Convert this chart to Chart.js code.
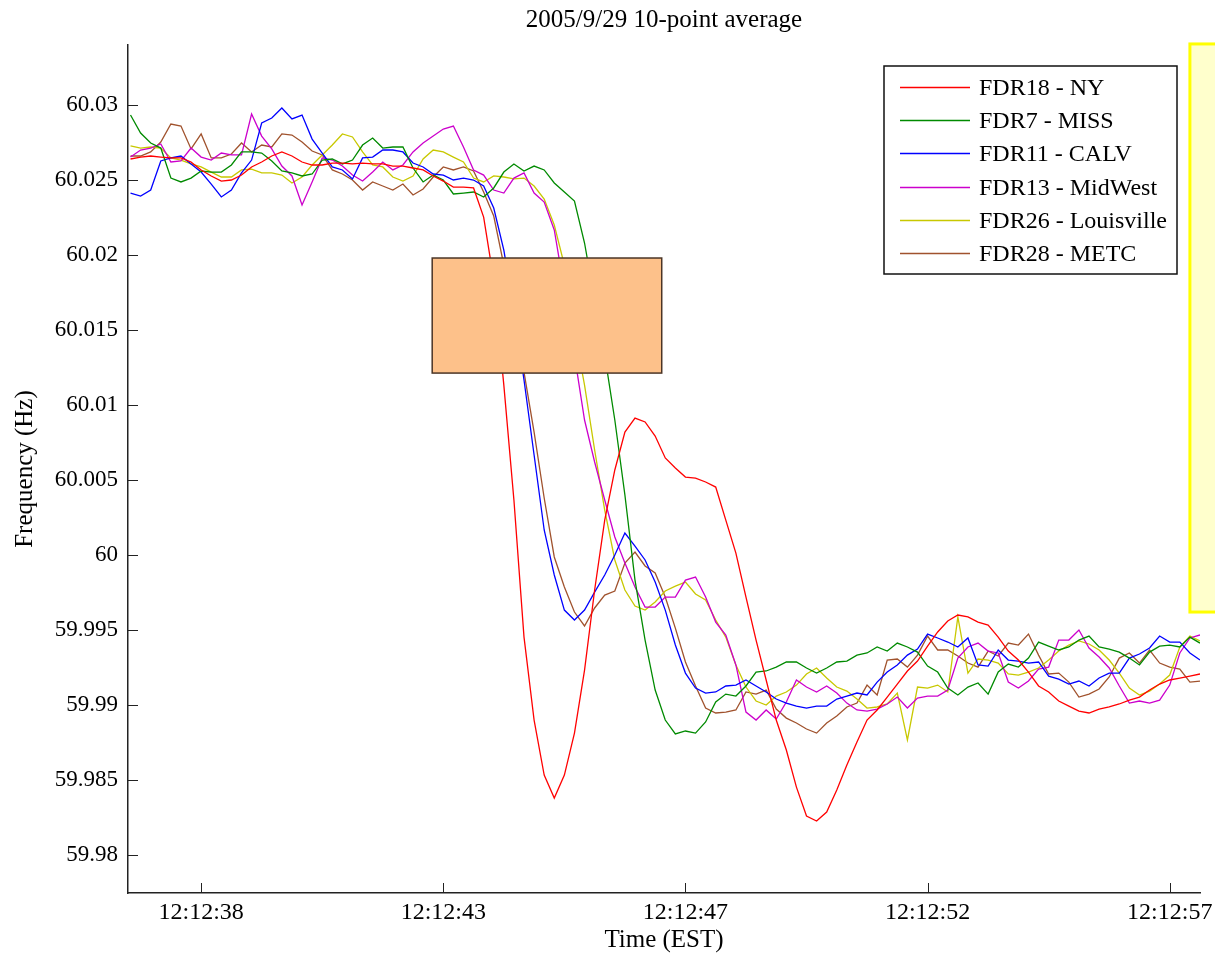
<!DOCTYPE html>
<html>
<head>
<meta charset="utf-8">
<script src="https://cdn.jsdelivr.net/npm/chart.js@4/dist/chart.umd.min.js"></script>
<style>
  html, body { margin: 0; padding: 0; background: #fff; }
  #wrap { width: 1215px; height: 954px; }
</style>
</head>
<body>
<div id="wrap"><canvas id="freq" width="1215" height="954"></canvas></div>
<script>
// time of each sample, seconds after 12:12:00 (10-point average, read every 0.2 s)
const times = [
  36.8, 37.0, 37.2, 37.4, 37.6, 37.8, 38.0, 38.2, 38.4, 38.6,
  38.8, 39.0, 39.2, 39.4, 39.6, 39.8, 40.0, 40.2, 40.4, 40.6,
  40.8, 41.0, 41.2, 41.4, 41.6, 41.8, 42.0, 42.2, 42.4, 42.6,
  42.8, 43.0, 43.2, 43.4, 43.6, 43.8, 44.0, 44.2, 44.4, 44.6,
  44.8, 45.0, 45.2, 45.4, 45.6, 45.8, 46.0, 46.2, 46.4, 46.6,
  46.8, 47.0, 47.2, 47.4, 47.6, 47.8, 48.0, 48.2, 48.4, 48.6,
  48.8, 49.0, 49.2, 49.4, 49.6, 49.8, 50.0, 50.2, 50.4, 50.6,
  50.8, 51.0, 51.2, 51.4, 51.6, 51.8, 52.0, 52.2, 52.4, 52.6,
  52.8, 53.0, 53.2, 53.4, 53.6, 53.8, 54.0, 54.2, 54.4, 54.6,
  54.8, 55.0, 55.2, 55.4, 55.6, 55.8, 56.0, 56.2, 56.4, 56.6,
  56.8, 57.0, 57.2, 57.4, 57.6, 57.8, 58.0
];

const fdr18 = [ // NY
  60.02640, 60.02653, 60.02660, 60.02653, 60.02647, 60.02647, 60.02620, 60.02567, 60.02527, 60.02493,
  60.02500, 60.02533, 60.02587, 60.02620, 60.02660, 60.02687, 60.02660, 60.02620, 60.02600, 60.02600,
  60.02613, 60.02613, 60.02607, 60.02613, 60.02607, 60.02607, 60.02593, 60.02593, 60.02580, 60.02567,
  60.02527, 60.02493, 60.02453, 60.02453, 60.02447, 60.02253, 60.01833, 60.01133, 60.00367, 59.99453,
  59.98900, 59.98533, 59.98380, 59.98533, 59.98813, 59.99233, 59.99767, 60.00233, 60.00567, 60.00820,
  60.00913, 60.00887, 60.00793, 60.00647, 60.00580, 60.00520, 60.00513, 60.00487, 60.00453, 60.00233,
  60.00013, 59.99720, 59.99433, 59.99167, 59.98900, 59.98700, 59.98453, 59.98260, 59.98227, 59.98287,
  59.98433, 59.98600, 59.98753, 59.98900, 59.98967, 59.99053, 59.99140, 59.99227, 59.99293, 59.99393,
  59.99487, 59.99560, 59.99600, 59.99587, 59.99553, 59.99533, 59.99453, 59.99360, 59.99300, 59.99220,
  59.99127, 59.99087, 59.99027, 59.98993, 59.98960, 59.98947, 59.98973, 59.98987, 59.99007, 59.99033,
  59.99053, 59.99100, 59.99140, 59.99167, 59.99180, 59.99193, 59.99207
];

const fdr7 = [ // MISS
  60.02933, 60.02813, 60.02747, 60.02713, 60.02513, 60.02487, 60.02513, 60.02560, 60.02553, 60.02553,
  60.02600, 60.02687, 60.02687, 60.02680, 60.02627, 60.02560, 60.02547, 60.02527, 60.02540, 60.02633,
  60.02640, 60.02607, 60.02633, 60.02733, 60.02780, 60.02713, 60.02720, 60.02720, 60.02580, 60.02487,
  60.02533, 60.02500, 60.02407, 60.02413, 60.02420, 60.02387, 60.02447, 60.02553, 60.02607, 60.02560,
  60.02593, 60.02567, 60.02480, 60.02420, 60.02360, 60.02080, 60.01700, 60.01333, 60.00900, 60.00400,
  59.99833, 59.99433, 59.99100, 59.98900, 59.98807, 59.98827, 59.98813, 59.98887, 59.99020, 59.99073,
  59.99060, 59.99127, 59.99220, 59.99227, 59.99253, 59.99287, 59.99287, 59.99247, 59.99213, 59.99247,
  59.99287, 59.99293, 59.99333, 59.99347, 59.99387, 59.99360, 59.99413, 59.99387, 59.99353, 59.99260,
  59.99220, 59.99113, 59.99067, 59.99120, 59.99147, 59.99073, 59.99220, 59.99273, 59.99253, 59.99313,
  59.99420, 59.99393, 59.99367, 59.99387, 59.99433, 59.99460, 59.99387, 59.99373, 59.99353, 59.99313,
  59.99267, 59.99353, 59.99393, 59.99400, 59.99387, 59.99453, 59.99413
];

const fdr11 = [ // CALV
  60.02413, 60.02393, 60.02433, 60.02627, 60.02647, 60.02660, 60.02607, 60.02553, 60.02473, 60.02387,
  60.02433, 60.02547, 60.02633, 60.02880, 60.02913, 60.02980, 60.02907, 60.02933, 60.02773, 60.02680,
  60.02587, 60.02567, 60.02507, 60.02647, 60.02653, 60.02700, 60.02700, 60.02687, 60.02613, 60.02587,
  60.02540, 60.02533, 60.02500, 60.02513, 60.02500, 60.02460, 60.02313, 60.02033, 60.01633, 60.01167,
  60.00667, 60.00167, 59.99867, 59.99633, 59.99567, 59.99633, 59.99753, 59.99867, 60.00000, 60.00147,
  60.00060, 59.99967, 59.99820, 59.99633, 59.99400, 59.99213, 59.99113, 59.99080, 59.99087, 59.99127,
  59.99133, 59.99167, 59.99127, 59.99087, 59.99040, 59.99013, 59.98993, 59.98980, 59.98993, 59.98993,
  59.99040, 59.99060, 59.99080, 59.99067, 59.99153, 59.99220, 59.99267, 59.99333, 59.99373, 59.99473,
  59.99447, 59.99420, 59.99387, 59.99447, 59.99267, 59.99260, 59.99367, 59.99300, 59.99293, 59.99280,
  59.99287, 59.99193, 59.99173, 59.99140, 59.99160, 59.99127, 59.99180, 59.99213, 59.99213, 59.99313,
  59.99340, 59.99380, 59.99460, 59.99420, 59.99420, 59.99347, 59.99300
];

const fdr13 = [ // MidWest
  60.02653, 60.02700, 60.02713, 60.02740, 60.02620, 60.02627, 60.02713, 60.02653, 60.02633, 60.02680,
  60.02667, 60.02667, 60.02940, 60.02793, 60.02707, 60.02593, 60.02527, 60.02333, 60.02487, 60.02647,
  60.02633, 60.02593, 60.02533, 60.02493, 60.02553, 60.02620, 60.02567, 60.02600, 60.02687, 60.02747,
  60.02793, 60.02840, 60.02860, 60.02720, 60.02567, 60.02533, 60.02433, 60.02413, 60.02513, 60.02547,
  60.02413, 60.02353, 60.02167, 60.01767, 60.01333, 60.00900, 60.00620, 60.00367, 60.00120, 59.99947,
  59.99787, 59.99653, 59.99653, 59.99720, 59.99720, 59.99833, 59.99853, 59.99720, 59.99553, 59.99467,
  59.99267, 59.98953, 59.98900, 59.98967, 59.98907, 59.99020, 59.99167, 59.99120, 59.99087, 59.99127,
  59.99080, 59.99013, 59.98967, 59.98960, 59.98973, 59.99007, 59.99053, 59.98980, 59.99047, 59.99060,
  59.99060, 59.99100, 59.99313, 59.99387, 59.99413, 59.99360, 59.99347, 59.99153, 59.99113, 59.99160,
  59.99240, 59.99253, 59.99433, 59.99433, 59.99500, 59.99380, 59.99320, 59.99247, 59.99127, 59.99013,
  59.99027, 59.99013, 59.99033, 59.99133, 59.99347, 59.99447, 59.99467
];

const fdr26 = [ // Louisville
  60.02727, 60.02713, 60.02720, 60.02713, 60.02647, 60.02633, 60.02607, 60.02587, 60.02553, 60.02520,
  60.02520, 60.02567, 60.02573, 60.02547, 60.02547, 60.02533, 60.02480, 60.02520, 60.02600, 60.02667,
  60.02733, 60.02807, 60.02787, 60.02687, 60.02600, 60.02587, 60.02520, 60.02493, 60.02527, 60.02640,
  60.02700, 60.02687, 60.02653, 60.02620, 60.02513, 60.02487, 60.02527, 60.02520, 60.02507, 60.02513,
  60.02460, 60.02373, 60.02200, 60.01933, 60.01500, 60.01133, 60.00700, 60.00300, 59.99967, 59.99767,
  59.99660, 59.99633, 59.99687, 59.99760, 59.99793, 59.99820, 59.99740, 59.99700, 59.99567, 59.99453,
  59.99267, 59.99120, 59.99027, 59.99000, 59.99060, 59.99087, 59.99133, 59.99207, 59.99247, 59.99180,
  59.99120, 59.99093, 59.99040, 59.98980, 59.98987, 59.99007, 59.99080, 59.98767, 59.99120, 59.99113,
  59.99133, 59.99087, 59.99587, 59.99213, 59.99307, 59.99300, 59.99280, 59.99207, 59.99200, 59.99220,
  59.99247, 59.99300, 59.99360, 59.99400, 59.99427, 59.99407, 59.99367, 59.99300, 59.99213, 59.99113,
  59.99067, 59.99093, 59.99140, 59.99200, 59.99387, 59.99460, 59.99427
];

const fdr28 = [ // METC
  60.02660, 60.02660, 60.02687, 60.02753, 60.02873, 60.02860, 60.02707, 60.02807, 60.02647, 60.02647,
  60.02673, 60.02747, 60.02687, 60.02733, 60.02720, 60.02807, 60.02800, 60.02753, 60.02693, 60.02667,
  60.02567, 60.02540, 60.02500, 60.02433, 60.02487, 60.02460, 60.02433, 60.02473, 60.02400, 60.02440,
  60.02520, 60.02587, 60.02567, 60.02587, 60.02560, 60.02420, 60.02260, 60.01933, 60.01567, 60.01220,
  60.00820, 60.00380, 59.99987, 59.99787, 59.99620, 59.99527, 59.99647, 59.99733, 59.99760, 59.99947,
  60.00020, 59.99927, 59.99880, 59.99720, 59.99513, 59.99287, 59.99127, 59.98980, 59.98947, 59.98953,
  59.98967, 59.99087, 59.99073, 59.99100, 59.98973, 59.98913, 59.98880, 59.98840, 59.98813, 59.98880,
  59.98927, 59.98987, 59.99013, 59.99133, 59.99067, 59.99300, 59.99307, 59.99253, 59.99333, 59.99460,
  59.99367, 59.99367, 59.99327, 59.99280, 59.99253, 59.99360, 59.99327, 59.99413, 59.99400, 59.99473,
  59.99333, 59.99207, 59.99213, 59.99153, 59.99053, 59.99073, 59.99107, 59.99187, 59.99313, 59.99347,
  59.99280, 59.99367, 59.99280, 59.99253, 59.99240, 59.99153, 59.99160
];

const seriesNames = ["FDR18 - NY", "FDR7 - MISS", "FDR11 - CALV", "FDR13 - MidWest", "FDR26 - Louisville", "FDR28 - METC"];
const seriesColors = ["#ff0000", "#008a00", "#0000ff", "#cc00cc", "#c8c800", "#a0522d"];

const xTicks = [38.2, 43.0, 47.8, 52.6, 57.4];
const xTickLabels = ["12:12:38", "12:12:43", "12:12:47", "12:12:52", "12:12:57"];
const yTicks = [59.98, 59.985, 59.99, 59.995, 60.0, 60.005, 60.01, 60.015, 60.02, 60.025, 60.03];

// boxes pasted over the figure: [t0, t1, f0, f1]
const orangeBox = [42.78, 47.33, 60.01213, 60.01980];
const noteBox = [57.80, 60.0, 59.99620, 60.03407];

const SERIF = "'Liberation Serif', 'Times New Roman', serif";

const overlays = {
  id: "overlays",
  afterDatasetsDraw(chart) {
    const { ctx, chartArea: a, scales: { x, y } } = chart;
    ctx.save();

    // orange box over the lines
    const ox0 = x.getPixelForValue(orangeBox[0]), ox1 = x.getPixelForValue(orangeBox[1]);
    const oy0 = y.getPixelForValue(orangeBox[3]), oy1 = y.getPixelForValue(orangeBox[2]);
    ctx.fillStyle = "#fdc18a";
    ctx.fillRect(ox0, oy0, ox1 - ox0, oy1 - oy0);
    ctx.strokeStyle = "#4b3526";
    ctx.lineWidth = 1.5;
    ctx.strokeRect(ox0, oy0, ox1 - ox0, oy1 - oy0);

    // inward tick marks, matlab style
    ctx.strokeStyle = "#222";
    ctx.lineWidth = 1;
    ctx.beginPath();
    y.ticks.forEach(t => {
      const py = Math.round(y.getPixelForValue(t.value)) + 0.5;
      ctx.moveTo(a.left, py);
      ctx.lineTo(a.left + 10, py);
    });
    x.ticks.forEach(t => {
      const px = Math.round(x.getPixelForValue(t.value)) + 0.5;
      ctx.moveTo(px, a.bottom);
      ctx.lineTo(px, a.bottom - 10);
    });
    ctx.stroke();

    // legend box
    const lw = 293, lh = 208;
    const lx = a.right - 316, ly = a.top + 21;
    ctx.fillStyle = "#fff";
    ctx.fillRect(lx, ly, lw, lh);
    ctx.strokeStyle = "#111";
    ctx.lineWidth = 1.5;
    ctx.strokeRect(lx, ly, lw, lh);
    ctx.font = "24px " + SERIF;
    ctx.textBaseline = "middle";
    ctx.textAlign = "left";
    chart.data.datasets.forEach((ds, i) => {
      const ry = Math.round(ly + 21 + i * 33.2) + 0.5;
      ctx.strokeStyle = ds.borderColor;
      ctx.lineWidth = 1.3;
      ctx.beginPath();
      ctx.moveTo(lx + 16, ry);
      ctx.lineTo(lx + 86, ry);
      ctx.stroke();
      ctx.fillStyle = "#000";
      ctx.fillText(ds.label, lx + 95, ry + 1);
    });

    // yellow note at the right edge
    const nx0 = x.getPixelForValue(noteBox[0]);
    const ny0 = y.getPixelForValue(noteBox[3]), ny1 = y.getPixelForValue(noteBox[2]);
    ctx.fillStyle = "#ffffcc";
    ctx.fillRect(nx0, ny0, chart.width - nx0 + 10, ny1 - ny0);
    ctx.strokeStyle = "#ffff00";
    ctx.lineWidth = 3;
    ctx.strokeRect(nx0, ny0, chart.width - nx0 + 10, ny1 - ny0);

    ctx.restore();
  }
};

const series = [fdr18, fdr7, fdr11, fdr13, fdr26, fdr28];

new Chart(document.getElementById("freq"), {
  type: "line",
  data: {
    datasets: series.map((vals, i) => ({
      label: seriesNames[i],
      data: times.map((t, k) => ({ x: t, y: vals[k] })),
      borderColor: seriesColors[i],
      borderWidth: 1.3,
      pointRadius: 0,
      tension: 0,
      fill: false,
    })),
  },
  options: {
    responsive: false,
    animation: false,
    devicePixelRatio: 1,
    layout: { padding: { top: 0, right: 15, bottom: 0, left: 0 } },
    plugins: {
      legend: { display: false },
      tooltip: { enabled: false },
      title: {
        display: true,
        text: "2005/9/29 10-point average",
        fullSize: false,
        color: "#000",
        font: { family: SERIF, size: 25, weight: "normal", lineHeight: 1.2 },
        padding: { top: 5, bottom: 10 },
      },
    },
    scales: {
      x: {
        type: "linear",
        min: 36.75,
        max: 58.0,
        afterBuildTicks: s => { s.ticks = xTicks.map(v => ({ value: v })); },
        afterFit: s => { s.height = 61; s.paddingLeft = 0; s.paddingRight = 0; },
        grid: { display: false, drawTicks: false },
        border: { display: true, color: "#222", width: 1.5 },
        ticks: {
          autoSkip: false,
          maxRotation: 0,
          padding: 5,
          color: "#000",
          font: { family: SERIF, size: 24 },
          callback: (v, i) => xTickLabels[i],
        },
        title: {
          display: true,
          text: "Time (EST)",
          color: "#000",
          font: { family: SERIF, size: 25, lineHeight: 1.1 },
          padding: { top: 0, bottom: 0 },
        },
      },
      y: {
        type: "linear",
        min: 59.97747,
        max: 60.034,
        afterBuildTicks: s => { s.ticks = yTicks.map(v => ({ value: v })); },
        afterFit: s => { s.width = 128; s.paddingTop = 0; s.paddingBottom = 0; },
        grid: { display: false, drawTicks: false },
        border: { display: true, color: "#222", width: 1.5 },
        ticks: {
          padding: 10,
          color: "#000",
          font: { family: SERIF, size: 23 },
          callback: v => String(+Number(v).toFixed(3)),
        },
        title: {
          display: true,
          text: "Frequency (Hz)",
          color: "#000",
          font: { family: SERIF, size: 25, lineHeight: 1.2 },
          padding: { top: 10, bottom: 0 },
        },
      },
    },
  },
  plugins: [overlays],
});
</script>
</body>
</html>
